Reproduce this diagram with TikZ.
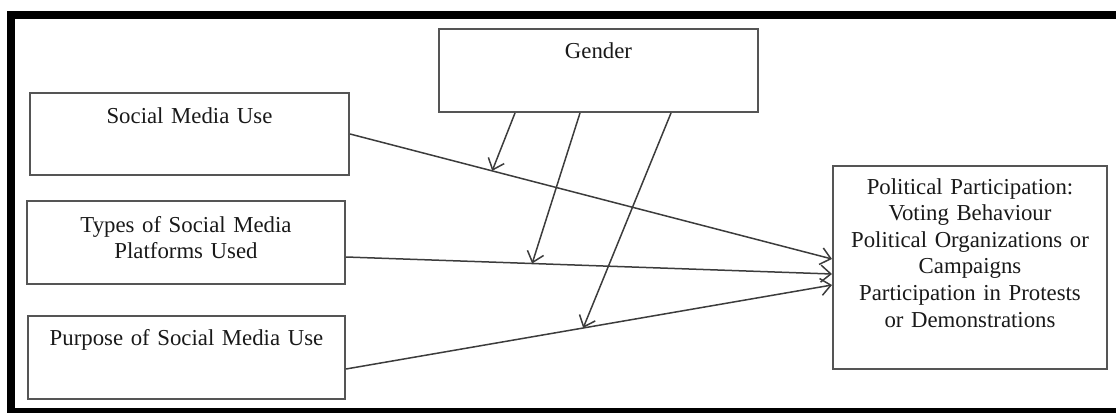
\documentclass[tikz,border=0pt]{standalone}
\usepackage{fontspec}
\setmainfont{Liberation Serif}
\usetikzlibrary{arrows.meta}

\definecolor{boxgray}{HTML}{555555}
\definecolor{linegray}{HTML}{3C3C3C}

\tikzset{
	var/.style={draw=boxgray, line width=1pt, inner sep=0pt, align=center,
		anchor=north west, text=black!90,
		font=\fontsize{11.4pt}{13.3pt}\selectfont},
	conn/.style={draw=linegray, line width=0.75pt,
		-{Straight Barb[length=5pt,width=8.5pt]}},
}

\begin{document}
\begin{tikzpicture}[x=0.5pt,y=-0.5pt]
		\useasboundingbox (0,0) rectangle (1116,413);
		% 1. 外框 (右边被裁掉, 只画三条边)
		\draw[line width=4pt] (1116,15) -- (10.5,15) -- (10.5,411.5) -- (1116,411.5);
		
		% 2. 方框 (左上角定位)
		\node[var, text width=159.5pt, text height=14.5pt, text depth=27pt] (gender) at (438,28) {Gender};
		\node[var, text width=159.5pt, text height=15pt, text depth=26pt] (smu) at (29,92) {Social Media Use};
		\node[var, text width=159pt, text height=15.5pt, text depth=26pt] (types) at (26,200) {Types of Social Media\\Platforms Used};
		\node[var, text width=158.5pt, text height=14.5pt, text depth=27pt] (purpose) at (27,315) {Purpose of Social Media Use};
		\node[var, text width=137pt, text height=14pt, text depth=87.5pt] (pp) at (832,165)
			{Political Participation:\\Voting Behaviour\\Political Organizations or\\Campaigns\\Participation in Protests\\or Demonstrations};
		
		% 3. 主效应箭头, 顺便记下调节箭头的落点
		\draw[conn] (smu.east) -- coordinate[pos=0.295] (m1) ([yshift=4.25pt]pp.west);
		\draw[conn] ([yshift=-7.25pt]types.east) -- coordinate[pos=0.383] (m2) ([yshift=-3.25pt]pp.west);
		\draw[conn] ([yshift=-5.75pt]purpose.east) -- coordinate[pos=0.488] (m3) ([yshift=-8.75pt]pp.west);
		
		% 4. Gender 的调节箭头
		\draw[conn] ([xshift=-41.75pt]gender.south) -- (m1);
		\draw[conn] ([xshift=-9.25pt]gender.south) -- (m2);
		\draw[conn] ([xshift=36.25pt]gender.south) -- (m3);
\end{tikzpicture}
\end{document}
